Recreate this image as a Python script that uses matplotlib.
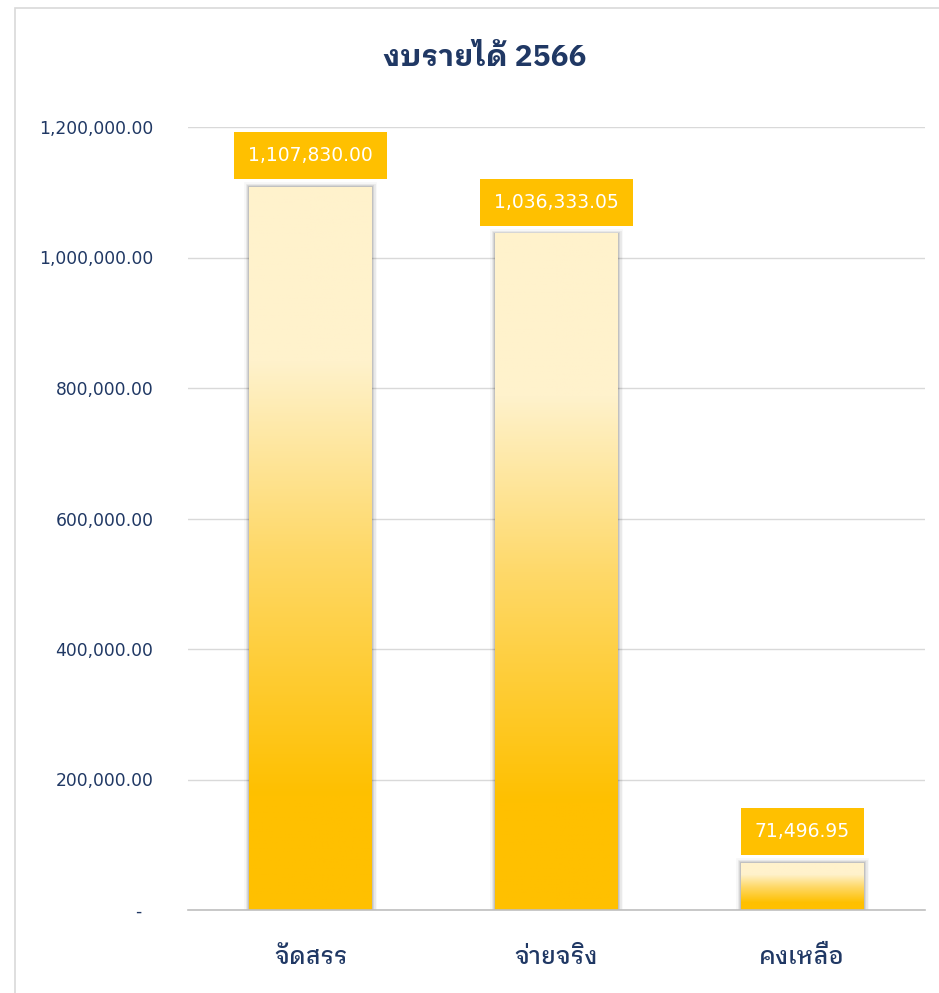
import matplotlib
matplotlib.use("Agg")
import numpy as np
import matplotlib.pyplot as plt
from matplotlib.patches import Rectangle
from matplotlib.colors import LinearSegmentedColormap
from matplotlib.ticker import FuncFormatter

# data
categories = ["จัดสรร", "จ่ายจริง", "คงเหลือ"]
values = [1107830.00, 1036333.05, 71496.95]
title = "งบรายได้ 2566"

navy = "#203864"
gold = "#FFC000"
cream = "#FFF2CC"
thai = ["IBM Plex Sans Thai Looped", "DejaVu Sans"]

# gradient: deep yellow at the bottom, cream at the top
cmap = LinearSegmentedColormap.from_list(
    "bar", [(0.0, gold), (0.16, gold), (0.5, "#FED96A"), (0.76, cream), (1.0, cream)])

fig = plt.figure(figsize=(9.39, 9.93), dpi=100)
ax = fig.add_axes([188 / 939, 83 / 993, 737 / 939, 783 / 993])

# light frame round the chart (cut off at right and bottom)
fig.patches.append(Rectangle((15 / 939, -0.05), 1.2, 1.05 - 8 / 993, transform=fig.transFigure,
                             fill=False, edgecolor="#D9D9D9", lw=1.2))

x = np.arange(len(categories))
width = 0.5
grad = np.linspace(0, 1, 256).reshape(-1, 1)
for xi, v in zip(x, values):
    # soft shadow
    for lw, a in [(7, 0.03), (5, 0.05), (3, 0.08), (1.5, 0.1)]:
        ax.add_patch(Rectangle((xi - width / 2, 0), width, v, fill=False,
                               edgecolor="black", lw=lw, alpha=a, zorder=2))
    ax.imshow(grad, extent=[xi - width / 2, xi + width / 2, 0, v], origin="lower",
              cmap=cmap, aspect="auto", zorder=3)
    ax.annotate(f"{v:,.2f}", (xi, v), xytext=(0, 16), textcoords="offset points",
                ha="center", va="bottom", color="white", fontsize=13.5,
                family=["DejaVu Sans"],
                bbox=dict(boxstyle="square,pad=0.75", fc=gold, ec="none"), zorder=5)

ax.set_xlim(-0.5, 2.5)
ax.set_ylim(0, 1200000)
ax.set_yticks(np.arange(0, 1200001, 200000))
ax.yaxis.set_major_formatter(FuncFormatter(lambda v, p: "-  " if v == 0 else f"{v:,.2f}"))
ax.grid(axis="y", color="#D9D9D9", lw=1.0, zorder=0)
ax.set_axisbelow(True)
for s in ["left", "right", "top"]:
    ax.spines[s].set_visible(False)
ax.spines["bottom"].set_color("#BFBFBF")
ax.spines["bottom"].set_linewidth(1.2)
ax.spines["bottom"].set_zorder(4)

ax.set_xticks(x)
ax.set_xticklabels(categories, family=thai, fontsize=17,
                   fontweight="medium", color=navy)
ax.tick_params(axis="x", length=0, pad=26)
ax.tick_params(axis="y", length=0, pad=25, labelsize=12.3, labelcolor=navy)

fig.text(485 / 939, 1 - 58 / 993, title, ha="center", va="center", fontsize=21.5,
         fontweight="bold", color=navy, family=thai)

fig.savefig("out.png", dpi=100, facecolor="white")
